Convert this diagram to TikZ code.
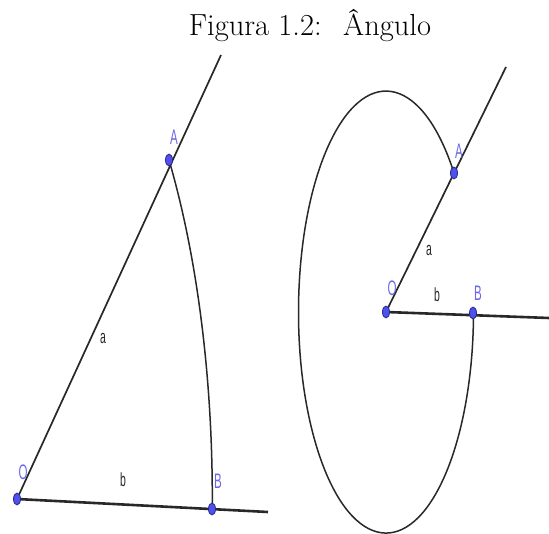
\documentclass[tikz,border=0pt]{standalone}
\usepackage{fontspec}
\newfontfamily\lblfont{Liberation Sans}
\usetikzlibrary{shapes.geometric}
\definecolor{ptfill}{RGB}{80,80,235}
\definecolor{ptdraw}{RGB}{40,40,140}
\definecolor{lblblue}{RGB}{105,105,230}
\definecolor{linegray}{RGB}{40,40,40}
\begin{document}
\begin{tikzpicture}[x=1pt,y=1pt,
  pt/.style={ellipse,draw=ptdraw,fill=ptfill,line width=0.8pt,minimum width=7pt,minimum height=12pt,inner sep=0pt},
  ray/.style={draw=linegray,line width=1.7pt},
  base/.style={draw=linegray,line width=2.6pt},
  arcline/.style={draw=linegray,line width=1.5pt},
  plbl/.style={text=lblblue,font=\lblfont\fontsize{21}{21}\selectfont,xscale=0.55,inner sep=0pt},
  slbl/.style={text=black!85,font=\lblfont\fontsize{19}{19}\selectfont,xscale=0.55,inner sep=0pt}]
\useasboundingbox (0,0) rectangle (549,-534);
% title
\node[anchor=base,font=\fontsize{30.5}{36}\selectfont,inner sep=0pt] (title) at (310,-36) {Figura 1.2:~ Ângulo};
% ---------- left figure ----------
\coordinate (O1c) at (17,-499);
\coordinate (A1c) at (169,-160);
\coordinate (B1c) at (212,-509);
\coordinate (E1a) at (221,-55);
\coordinate (E1b) at (268,-512);
\draw[ray] (O1c) -- (E1a);
\draw[base] (O1c) -- (E1b);
\draw[arcline] (A1c) arc[start angle=38.9,end angle=-1.06,x radius=195.3pt,y radius=540pt];
\node[pt] (O1) at (O1c) {};
\node[pt] (A1) at (A1c) {};
\node[pt] (B1) at (B1c) {};
\node[plbl] (lO1) at (23,-472) {O};
\node[plbl] (lA1) at (174,-137) {A};
\node[plbl] (lB1) at (218,-481) {B};
\node[slbl] (la1) at (103,-338) {a};
\node[slbl] (lb1) at (123,-480) {b};
% ---------- right figure ----------
\coordinate (O2c) at (386,-312);
\coordinate (A2c) at (454,-173);
\coordinate (B2c) at (473,-313);
\coordinate (E2a) at (506,-67);
\coordinate (E2b) at (549,-318);
\draw[ray] (O2c) -- (E2a);
\draw[base] (O2c) -- (E2b);
\draw[arcline] (A2c) arc[start angle=39.0,end angle=359.4,x radius=87.5pt,y radius=221pt];
\node[pt] (O2) at (O2c) {};
\node[pt] (A2) at (A2c) {};
\node[pt] (B2) at (B2c) {};
\node[plbl] (lO2) at (392,-288) {O};
\node[plbl] (lA2) at (459,-151) {A};
\node[plbl] (lB2) at (478,-293) {B};
\node[slbl] (la2) at (429,-250) {a};
\node[slbl] (lb2) at (437,-295) {b};
\end{tikzpicture}
\end{document}
